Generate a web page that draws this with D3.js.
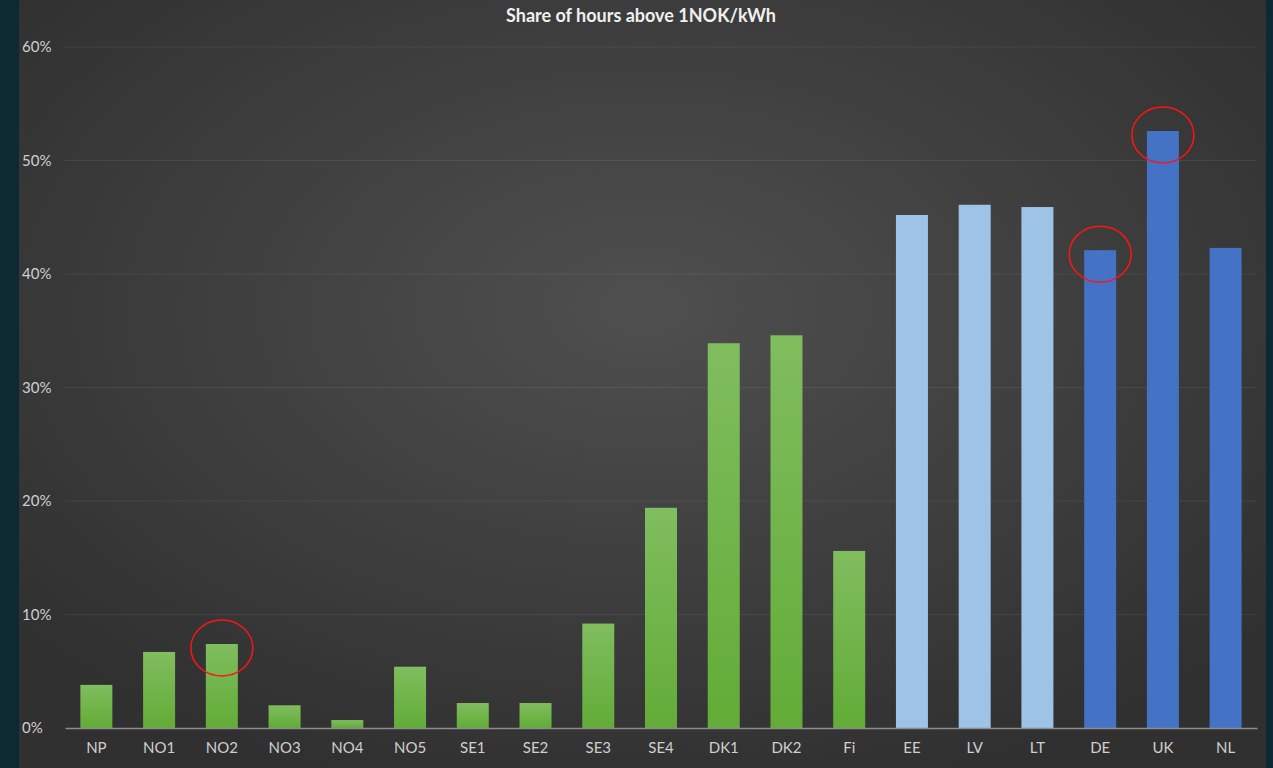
<!DOCTYPE html>
<html lang="en">
<head>
  <meta charset="UTF-8" />
  <script src="https://d3js.org/d3.v7.min.js"></script>
  <title>Share of hours above 1NOK/kWh</title>
  <style>
    body { margin: 0; background: #0d2a33; }
    text { font-family: Lato, "Open Sans", sans-serif; }
  </style>
</head>
<body>
  <script>
    var categories = ["NP", "NO1", "NO2", "NO3", "NO4", "NO5", "SE1", "SE2", "SE3", "SE4",
      "DK1", "DK2", "Fi", "EE", "LV", "LT", "DE", "UK", "NL"];
    var shares = [3.8, 6.7, 7.4, 2.0, 0.7, 5.4, 2.2, 2.2, 9.2, 19.4,
      33.9, 34.6, 15.6, 45.2, 46.1, 45.9, 42.1, 52.6, 42.3];
    var groups = ["nordic", "nordic", "nordic", "nordic", "nordic", "nordic", "nordic", "nordic", "nordic", "nordic",
      "nordic", "nordic", "nordic", "baltic", "baltic", "baltic", "west", "west", "west"];
    var yTicks = [0, 10, 20, 30, 40, 50, 60];
    var circled = ["NO2", "DE", "UK"];

    var width = 1273, height = 768;
    var panelLeft = 19, panelRight = 1266;
    var margin = { left: 65, right: 16, top: 47, bottom: 40 };

    var svg = d3.select("body").append("svg")
      .attr("width", width)
      .attr("height", height);

    var defs = svg.append("defs");
    var bg = defs.append("radialGradient").attr("id", "bg")
      .attr("cx", "50%").attr("cy", "40%").attr("r", "65%");
    bg.append("stop").attr("offset", "0%").attr("stop-color", "#4f4f4f");
    bg.append("stop").attr("offset", "100%").attr("stop-color", "#303030");

    var green = defs.append("linearGradient").attr("id", "green")
      .attr("x1", 0).attr("y1", 0).attr("x2", 0).attr("y2", 1);
    green.append("stop").attr("offset", "0%").attr("stop-color", "#80bd5e");
    green.append("stop").attr("offset", "100%").attr("stop-color", "#62ac37");

    var colors = { nordic: "url(#green)", baltic: "#9dc3e6", west: "#4472c4" };

    svg.append("rect")
      .attr("x", panelLeft).attr("y", 0)
      .attr("width", panelRight - panelLeft).attr("height", height)
      .attr("fill", "url(#bg)");

    var x = d3.scaleBand()
      .domain(categories)
      .range([margin.left, width - margin.right])
      .paddingInner(0.49)
      .paddingOuter(0.245);

    var y = d3.scaleLinear()
      .domain([0, 60])
      .range([height - margin.bottom, margin.top]);

    // gridlines
    svg.append("g")
      .selectAll("line")
      .data(yTicks.slice(1))
      .join("line")
      .attr("x1", margin.left).attr("x2", width - margin.right)
      .attr("y1", d => y(d)).attr("y2", d => y(d))
      .attr("stroke", "#ffffff").attr("stroke-opacity", 0.07);

    // y labels
    svg.append("g")
      .selectAll("text")
      .data(yTicks)
      .join("text")
      .attr("x", 22)
      .attr("y", d => y(d) + 5)
      .attr("fill", "#cfcfcf")
      .attr("font-size", 15)
      .text(d => d + "%");

    // bars
    svg.append("g")
      .selectAll("rect")
      .data(categories)
      .join("rect")
      .attr("x", d => x(d))
      .attr("width", x.bandwidth())
      .attr("y", (d, i) => y(shares[i]))
      .attr("height", (d, i) => y(0) - y(shares[i]))
      .attr("fill", (d, i) => colors[groups[i]]);

    // x axis
    var xAxis = d3.axisBottom(x).tickSize(0).tickPadding(14);
    var gx = svg.append("g")
      .attr("transform", "translate(0," + y(0) + ")")
      .call(xAxis);
    gx.select(".domain").attr("stroke", "#8c8c8c").attr("stroke-width", 1.5);
    gx.selectAll("text")
      .attr("fill", "#cfcfcf")
      .attr("font-size", 15)
      .style("font-family", "Lato, sans-serif");

    // red annotation circles
    svg.append("g")
      .selectAll("ellipse")
      .data(circled)
      .join("ellipse")
      .attr("cx", d => x(d) + x.bandwidth() / 2)
      .attr("cy", d => y(shares[categories.indexOf(d)]) + 4)
      .attr("rx", 31).attr("ry", 28)
      .attr("fill", "none")
      .attr("stroke", "#ff1414")
      .attr("stroke-width", 1.5);

    // title
    svg.append("text")
      .attr("x", 641).attr("y", 22)
      .attr("text-anchor", "middle")
      .attr("fill", "#f0f0f0")
      .attr("font-size", 18)
      .attr("font-weight", "bold")
      .text("Share of hours above 1NOK/kWh");
  </script>
</body>
</html>
